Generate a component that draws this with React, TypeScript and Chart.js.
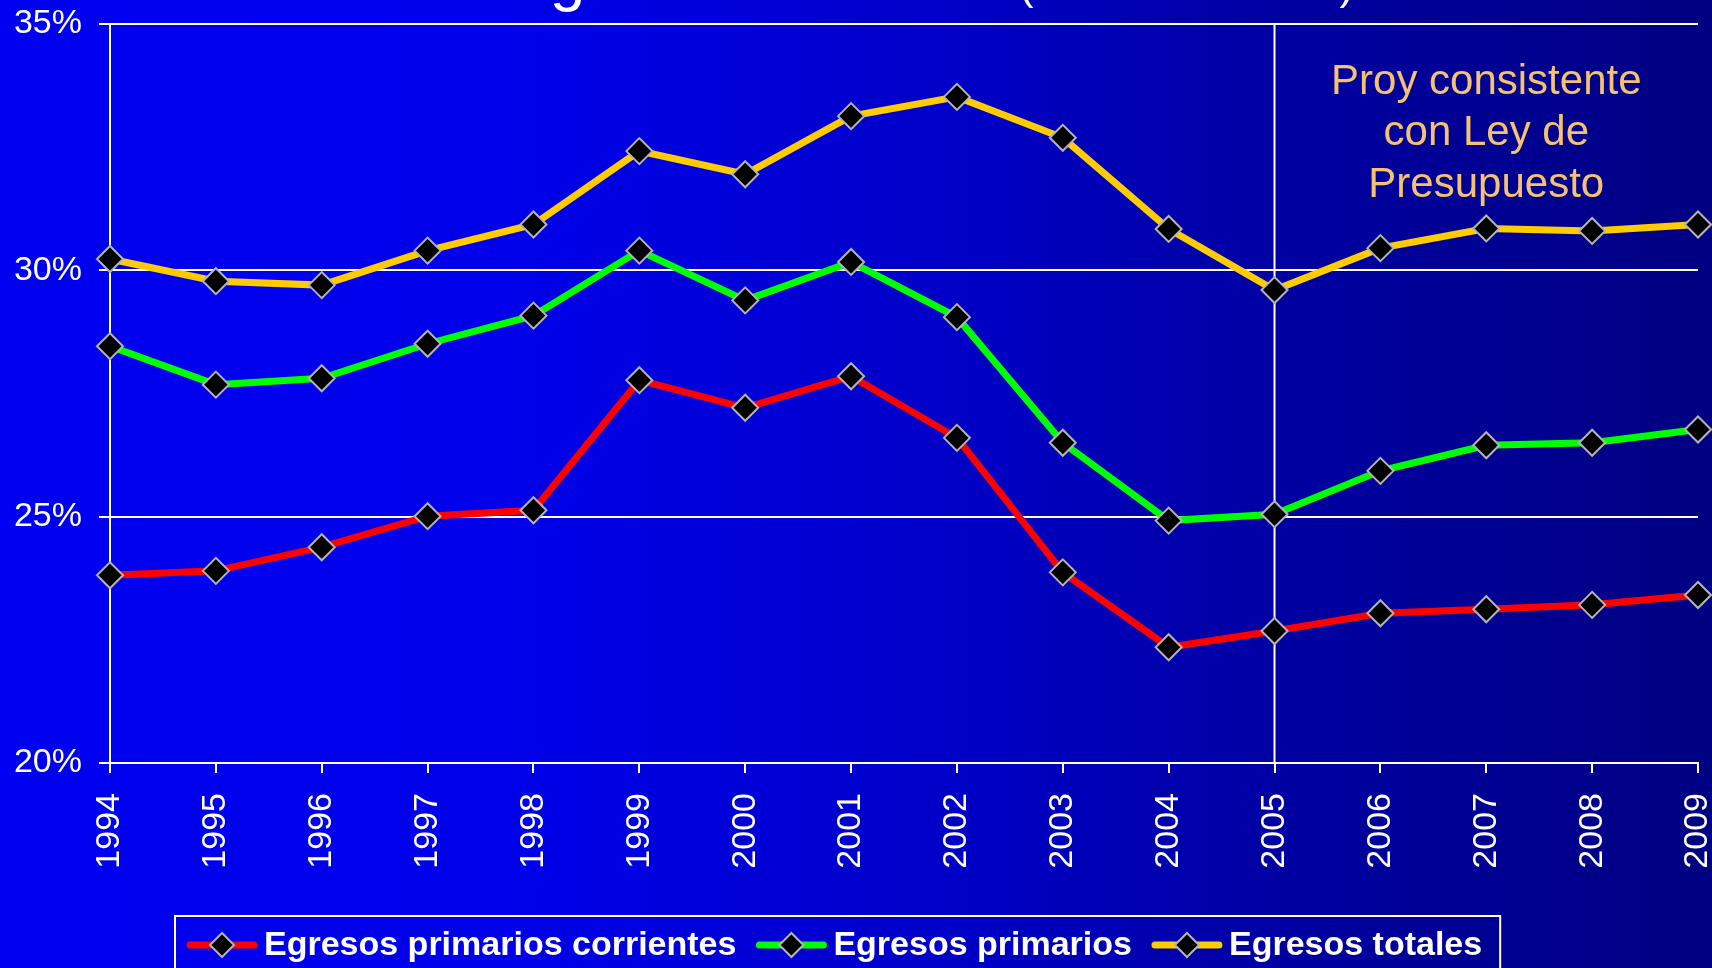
import React, { useEffect, useRef } from 'react';
import { Chart, registerables } from 'chart.js';

Chart.register(...registerables);

// ---------- data ----------
const YEARS = ['1994', '1995', '1996', '1997', '1998', '1999', '2000', '2001', '2002', '2003', '2004', '2005', '2006', '2007', '2008', '2009'];

const EGRESOS_PRIMARIOS_CORRIENTES = [23.81, 23.9, 24.38, 25.01, 25.13, 27.77, 27.21, 27.85, 26.6, 23.87, 22.35, 22.68, 23.04, 23.12, 23.21, 23.41];
const EGRESOS_PRIMARIOS = [28.46, 27.68, 27.81, 28.51, 29.08, 30.4, 29.39, 30.17, 29.05, 26.5, 24.92, 25.05, 25.93, 26.45, 26.5, 26.77];
const EGRESOS_TOTALES = [30.23, 29.78, 29.7, 30.4, 30.93, 32.42, 31.95, 33.13, 33.52, 32.69, 30.84, 29.6, 30.45, 30.85, 30.8, 30.93];

const SERIES_LABELS = ['Egresos primarios corrientes', 'Egresos primarios', 'Egresos totales'];
const SERIES_COLORS = ['#FF0000', '#00FF00', '#FFCC00'];

const Y_MIN = 20;
const Y_MAX = 35;
const Y_STEP = 5;

const PROJECTION_START = '2005';
const ANNOTATION_LINES = ['Proy consistente', 'con Ley de', 'Presupuesto'];
const TITLE_MAIN = 'Egresos Públicos';
const TITLE_UNIT = '(como % del PIB)';

// ---------- styles ----------
const FONT = '"Liberation Sans", Arial, Helvetica, sans-serif';
const WIDTH = 1712;
const HEIGHT = 968;

function diamond(ctx: CanvasRenderingContext2D, x: number, y: number, r: number) {
  ctx.beginPath();
  ctx.moveTo(x - r, y);
  ctx.lineTo(x, y - r);
  ctx.lineTo(x + r, y);
  ctx.lineTo(x, y + r);
  ctx.closePath();
  ctx.fillStyle = '#000000';
  ctx.fill();
  ctx.lineWidth = 2;
  ctx.strokeStyle = '#B4B4B4';
  ctx.stroke();
}

const projectionLinePlugin = {
  id: 'projectionLine',
  beforeDatasetsDraw(chart: any) {
    const { ctx, chartArea, scales } = chart;
    const x = scales.x.getPixelForValue(YEARS.indexOf(PROJECTION_START));
    ctx.save();
    ctx.strokeStyle = '#FFFFFF';
    ctx.lineWidth = 2;
    ctx.beginPath();
    ctx.moveTo(x, chartArea.top);
    ctx.lineTo(x, chartArea.bottom);
    ctx.stroke();
    ctx.restore();
  },
};

const decorPlugin = {
  id: 'decor',
  afterDraw(chart: any) {
    const { ctx, chartArea, scales } = chart;
    ctx.save();
    ctx.setTransform(1, 0, 0, 1, 0, 0);

    // title (cut off by the top edge: only descenders show)
    ctx.fillStyle = '#FFFFFF';
    ctx.textAlign = 'left';
    ctx.textBaseline = 'alphabetic';
    ctx.font = `64px ${FONT}`;
    const baseY = -1;
    const tx = 507;
    ctx.fillText(TITLE_MAIN, tx, baseY);
    const w1 = ctx.measureText(TITLE_MAIN + ' ').width;
    ctx.font = `43px ${FONT}`;
    ctx.fillText(TITLE_UNIT, tx + w1, baseY);

    // annotation
    const xp = scales.x.getPixelForValue(YEARS.indexOf(PROJECTION_START));
    const cx = (xp + chartArea.right) / 2;
    ctx.fillStyle = '#F5C271';
    ctx.textAlign = 'center';
    ctx.textBaseline = 'middle';
    ctx.font = `42px ${FONT}`;
    ANNOTATION_LINES.forEach((line, i) => {
      ctx.fillText(line, cx, chartArea.top + 58 + i * 51.5);
    });

    // legend
    ctx.font = `bold 34px ${FONT}`;
    const datasets = chart.data.datasets;
    const lineW = 70;
    const gapT = 7;
    const gapItem = 20;
    const boxLeft = 175;
    const boxTop = 916;
    const cy = 945;
    const widths = datasets.map((ds: any) => ctx.measureText(ds.label).width);
    const total = widths.reduce((s: number, w: number) => s + lineW + gapT + w, 0) + gapItem * (datasets.length - 1);
    ctx.strokeStyle = '#FFFFFF';
    ctx.lineWidth = 2;
    ctx.strokeRect(boxLeft, boxTop, total + 30, 120);
    let x = boxLeft + 12;
    datasets.forEach((ds: any, i: number) => {
      ctx.strokeStyle = ds.borderColor;
      ctx.lineWidth = 7;
      ctx.lineCap = 'round';
      ctx.beginPath();
      ctx.moveTo(x + 3, cy);
      ctx.lineTo(x + lineW - 3, cy);
      ctx.stroke();
      diamond(ctx, x + lineW / 2, cy, 12);
      ctx.fillStyle = '#FFFFFF';
      ctx.textAlign = 'left';
      ctx.textBaseline = 'middle';
      ctx.fillText(ds.label, x + lineW + gapT, cy + 1);
      x += lineW + gapT + widths[i] + gapItem;
    });

    ctx.restore();
  },
};

export default function App() {
  const canvasRef = useRef<HTMLCanvasElement | null>(null);

  useEffect(() => {
    const canvas = canvasRef.current;
    if (!canvas) return;
    const seriesData = [EGRESOS_PRIMARIOS_CORRIENTES, EGRESOS_PRIMARIOS, EGRESOS_TOTALES];
    const chart = new Chart(canvas, {
      type: 'line',
      data: {
        labels: YEARS,
        datasets: seriesData.map((d, i) => ({
          label: SERIES_LABELS[i],
          data: d,
          borderColor: SERIES_COLORS[i],
          backgroundColor: SERIES_COLORS[i],
          borderWidth: 7,
          tension: 0,
          pointStyle: 'rectRot',
          pointRadius: 13,
          pointHoverRadius: 13,
          pointBackgroundColor: '#000000',
          pointBorderColor: '#B4B4B4',
          pointBorderWidth: 2,
          fill: false,
        })),
      },
      options: {
        responsive: false,
        animation: false,
        devicePixelRatio: 1,
        events: [],
        layout: {
          autoPadding: false,
          padding: { top: 24, right: 14, bottom: 0, left: 0 },
        },
        plugins: {
          legend: { display: false },
          tooltip: { enabled: false },
          title: { display: false },
        },
        scales: {
          x: {
            type: 'category',
            offset: false,
            grid: {
              drawOnChartArea: false,
              drawTicks: true,
              tickLength: 10,
              color: '#FFFFFF',
              lineWidth: 2,
            },
            border: { display: true, color: '#FFFFFF', width: 2 },
            ticks: {
              color: '#FFFFFF',
              font: { family: FONT, size: 34 },
              minRotation: 90,
              maxRotation: 90,
              padding: 20,
              autoSkip: false,
            },
            afterFit: (scale: any) => {
              scale.height = 205;
              scale.paddingLeft = 0;
              scale.paddingRight = 0;
              scale.paddingTop = 0;
              scale.paddingBottom = 0;
            },
          },
          y: {
            min: Y_MIN,
            max: Y_MAX,
            grid: {
              color: '#FFFFFF',
              lineWidth: 2,
              drawTicks: true,
              tickLength: 11,
            },
            border: { display: true, color: '#FFFFFF', width: 2 },
            ticks: {
              stepSize: Y_STEP,
              color: '#FFFFFF',
              font: { family: FONT, size: 34 },
              padding: 17,
              callback: (v: any) => `${v}%`,
            },
            afterFit: (scale: any) => {
              scale.width = 110;
              scale.paddingLeft = 0;
              scale.paddingRight = 0;
              scale.paddingTop = 0;
              scale.paddingBottom = 0;
            },
          },
        },
      } as any,
      plugins: [projectionLinePlugin, decorPlugin],
    });
    return () => chart.destroy();
  }, []);

  return (
    <div
      style={{
        position: 'absolute',
        left: 0,
        top: 0,
        width: WIDTH,
        height: HEIGHT,
        overflow: 'hidden',
        background: 'linear-gradient(to right, #0000F2 0%, #0000EA 30%, #0000C8 55%, #0000A2 75%, #000082 100%)',
      }}
    >
      <canvas ref={canvasRef} width={WIDTH} height={HEIGHT} style={{ display: 'block' }} />
    </div>
  );
}
